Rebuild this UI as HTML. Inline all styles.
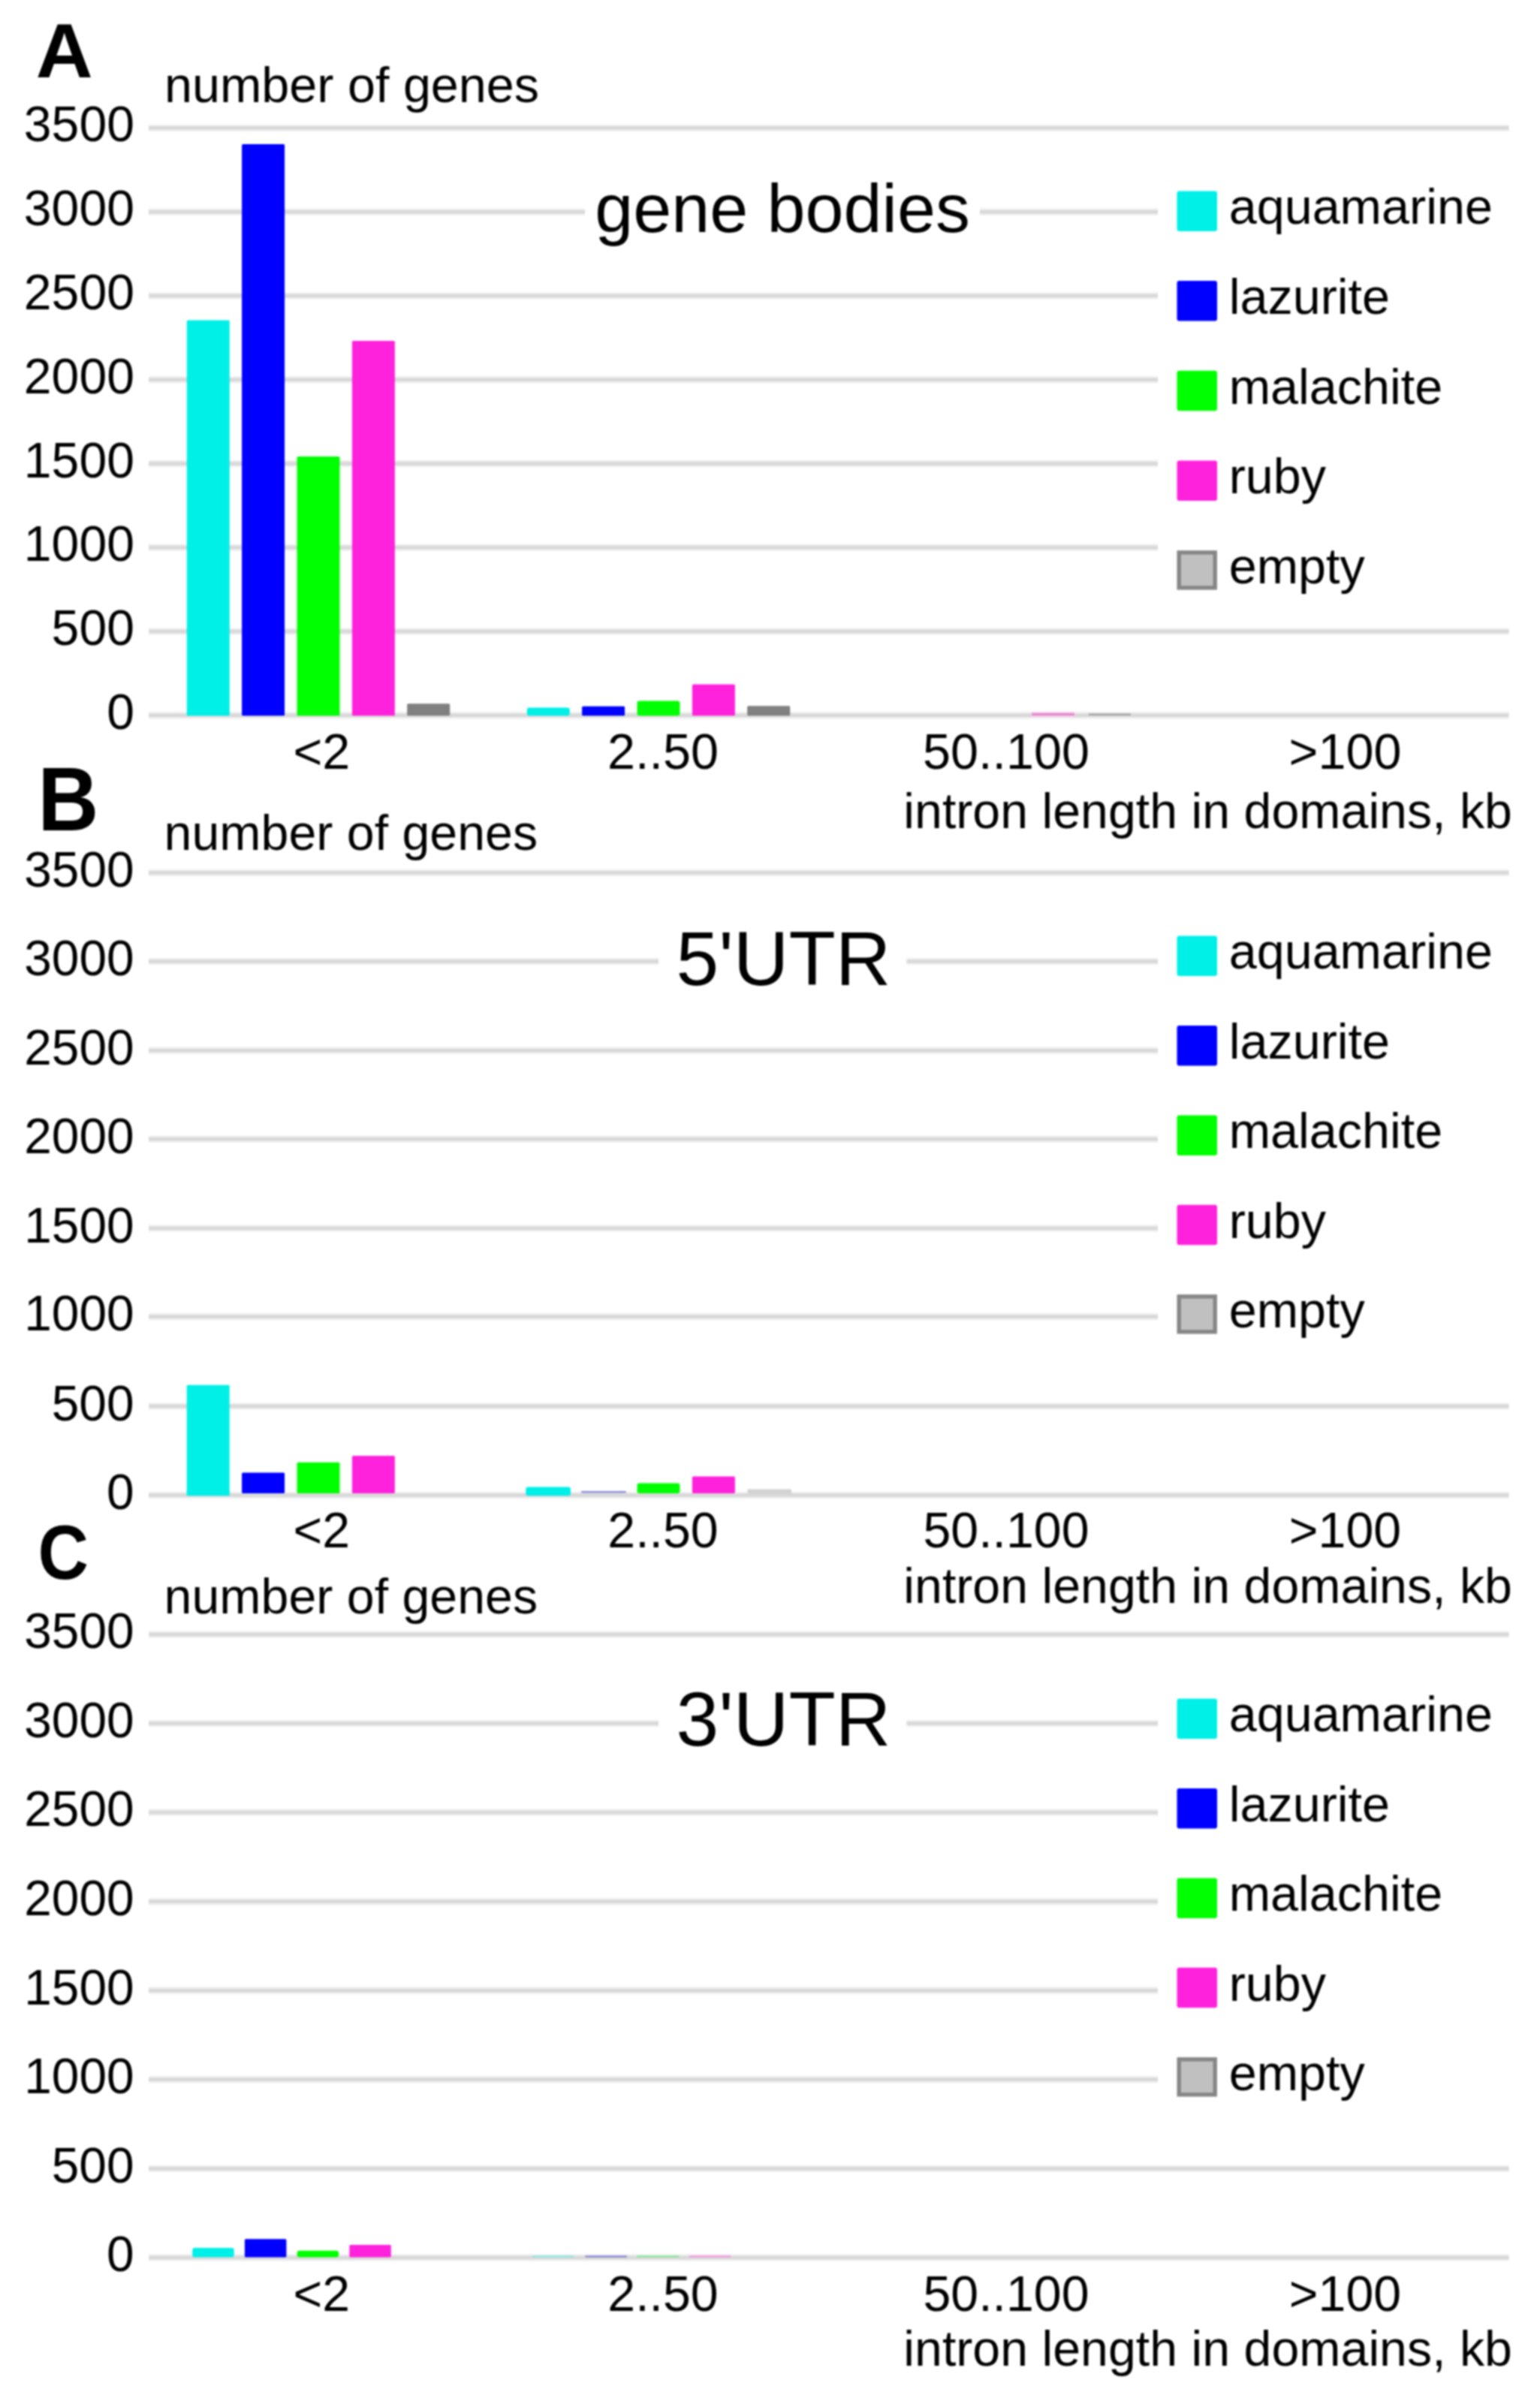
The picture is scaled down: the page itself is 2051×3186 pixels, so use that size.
<!DOCTYPE html>
<html lang="en"><head><meta charset="utf-8"><title>Intron length in chromatin domains</title>
<style>html,body{margin:0;padding:0;background:#fff}body{width:2051px;height:3186px;overflow:hidden}svg{display:block}text{font-family:"Liberation Sans",Arial,Helvetica,sans-serif;fill:#000}.t{font-size:66.5px}.b{font-weight:bold}</style></head><body>
<svg width="2051" height="3186" viewBox="0 0 2051 3186">
<defs><filter id="soft" x="0" y="0" width="100%" height="100%" filterUnits="userSpaceOnUse" color-interpolation-filters="sRGB"><feGaussianBlur stdDeviation="0.8"/></filter></defs>
<rect width="2051" height="3186" fill="#fff"/>
<g filter="url(#soft)">
<rect width="2051" height="3186" fill="#fff"/>
<g>
<line x1="198.0" x2="2009.5" y1="170.40" y2="170.40" stroke="#f1f1f1" stroke-width="9.5"/>
<line x1="198.0" x2="2009.5" y1="170.40" y2="170.40" stroke="#d9d9d9" stroke-width="5"/>
<line x1="198.0" x2="2009.5" y1="282.17" y2="282.17" stroke="#f1f1f1" stroke-width="9.5"/>
<line x1="198.0" x2="2009.5" y1="282.17" y2="282.17" stroke="#d9d9d9" stroke-width="5"/>
<line x1="198.0" x2="2009.5" y1="393.94" y2="393.94" stroke="#f1f1f1" stroke-width="9.5"/>
<line x1="198.0" x2="2009.5" y1="393.94" y2="393.94" stroke="#d9d9d9" stroke-width="5"/>
<line x1="198.0" x2="2009.5" y1="505.71" y2="505.71" stroke="#f1f1f1" stroke-width="9.5"/>
<line x1="198.0" x2="2009.5" y1="505.71" y2="505.71" stroke="#d9d9d9" stroke-width="5"/>
<line x1="198.0" x2="2009.5" y1="617.49" y2="617.49" stroke="#f1f1f1" stroke-width="9.5"/>
<line x1="198.0" x2="2009.5" y1="617.49" y2="617.49" stroke="#d9d9d9" stroke-width="5"/>
<line x1="198.0" x2="2009.5" y1="729.26" y2="729.26" stroke="#f1f1f1" stroke-width="9.5"/>
<line x1="198.0" x2="2009.5" y1="729.26" y2="729.26" stroke="#d9d9d9" stroke-width="5"/>
<line x1="198.0" x2="2009.5" y1="841.03" y2="841.03" stroke="#f1f1f1" stroke-width="9.5"/>
<line x1="198.0" x2="2009.5" y1="841.03" y2="841.03" stroke="#d9d9d9" stroke-width="5"/>
<line x1="198.0" x2="2009.5" y1="952.80" y2="952.80" stroke="#f1f1f1" stroke-width="9.5"/>
<line x1="198.0" x2="2009.5" y1="952.80" y2="952.80" stroke="#d9d9d9" stroke-width="5"/>
<rect x="779.0" y="232.2" width="526.0" height="100.0" fill="#fff"/>
<rect x="1542" y="232.2" width="509.0" height="598.9" fill="#fff"/>
<rect x="248.8" y="426.4" width="57.0" height="526.9" rx="1.5" fill="#00f0e8"/>
<rect x="322.1" y="191.9" width="57.0" height="761.4" rx="1.5" fill="#0000ff"/>
<rect x="395.5" y="608.1" width="57.0" height="345.2" rx="1.5" fill="#00ff00"/>
<rect x="468.9" y="453.9" width="57.0" height="499.4" rx="1.5" fill="#ff22dd"/>
<rect x="542.2" y="937.2" width="57.0" height="16.1" rx="1.5" fill="#808080"/>
<rect x="701.8" y="942.6" width="57.0" height="10.7" rx="3.2" fill="#00f0e8"/>
<rect x="775.1" y="940.8" width="57.0" height="12.5" rx="1.5" fill="#0000ff"/>
<rect x="848.5" y="933.6" width="57.0" height="19.7" rx="3.2" fill="#00ff00"/>
<rect x="921.9" y="911.5" width="57.0" height="41.8" rx="1.5" fill="#ff22dd"/>
<rect x="995.2" y="940.2" width="57.0" height="13.1" rx="1.5" fill="#808080"/>
<rect x="1374.0" y="948.2" width="57.0" height="6.6" rx="1" fill="#ffc4f2"/>
<rect x="1374.0" y="950.0" width="57.0" height="3.0" rx="1" fill="#dc8cc4"/>
<rect x="1449.7" y="950.2" width="56.5" height="2.8" rx="1" fill="#a8a8a8"/>
<text transform="translate(179.0 188.4) scale(0.995 1.0)" text-anchor="end" class="t">3500</text>
<text transform="translate(179.0 300.2) scale(0.995 1.0)" text-anchor="end" class="t">3000</text>
<text transform="translate(179.0 411.9) scale(0.995 1.0)" text-anchor="end" class="t">2500</text>
<text transform="translate(179.0 523.7) scale(0.995 1.0)" text-anchor="end" class="t">2000</text>
<text transform="translate(179.0 635.5) scale(0.995 1.0)" text-anchor="end" class="t">1500</text>
<text transform="translate(179.0 747.3) scale(0.995 1.0)" text-anchor="end" class="t">1000</text>
<text transform="translate(179.0 859.0) scale(0.995 1.0)" text-anchor="end" class="t">500</text>
<text transform="translate(179.0 970.8) scale(0.995 1.0)" text-anchor="end" class="t">0</text>
<text x="219.0" y="136.0" class="t">number of genes</text>
<text transform="translate(47.8 103.3) scale(1.03 1.0)" font-size="102" class="b">A</text>
<text x="1042.0" y="309.2" text-anchor="middle" font-size="91.7">gene bodies</text>
<rect x="1567.5" y="254.4" width="53.5" height="53.5" rx="3" fill="#00f0e8"/>
<text x="1636.7" y="298.1" class="t">aquamarine</text>
<rect x="1567.5" y="374.1" width="53.5" height="53.5" rx="3" fill="#0000ff"/>
<text x="1636.7" y="417.8" class="t">lazurite</text>
<rect x="1567.5" y="493.8" width="53.5" height="53.5" rx="3" fill="#00ff00"/>
<text x="1636.7" y="537.5" class="t">malachite</text>
<rect x="1567.5" y="613.5" width="53.5" height="53.5" rx="3" fill="#ff22dd"/>
<text x="1636.7" y="657.2" class="t">ruby</text>
<rect x="1570.2" y="735.9" width="48" height="47" fill="#c0c0c0" stroke="#868686" stroke-width="5.4"/>
<text x="1636.7" y="776.9" class="t">empty</text>
<text x="428.3" y="1023.6" text-anchor="middle" class="t">&lt;2</text>
<text x="883.0" y="1023.6" text-anchor="middle" class="t">2..50</text>
<text x="1340.0" y="1023.6" text-anchor="middle" class="t">50..100</text>
<text x="1791.5" y="1023.6" text-anchor="middle" class="t">&gt;100</text>
<text transform="translate(2014.0 1102.8) scale(0.997 1.0)" text-anchor="end" class="t">intron length in domains, kb</text>
</g>
<g>
<line x1="198.0" x2="2009.5" y1="1162.60" y2="1162.60" stroke="#f1f1f1" stroke-width="9.5"/>
<line x1="198.0" x2="2009.5" y1="1162.60" y2="1162.60" stroke="#d9d9d9" stroke-width="5"/>
<line x1="198.0" x2="2009.5" y1="1280.50" y2="1280.50" stroke="#f1f1f1" stroke-width="9.5"/>
<line x1="198.0" x2="2009.5" y1="1280.50" y2="1280.50" stroke="#d9d9d9" stroke-width="5"/>
<line x1="198.0" x2="2009.5" y1="1399.20" y2="1399.20" stroke="#f1f1f1" stroke-width="9.5"/>
<line x1="198.0" x2="2009.5" y1="1399.20" y2="1399.20" stroke="#d9d9d9" stroke-width="5"/>
<line x1="198.0" x2="2009.5" y1="1517.20" y2="1517.20" stroke="#f1f1f1" stroke-width="9.5"/>
<line x1="198.0" x2="2009.5" y1="1517.20" y2="1517.20" stroke="#d9d9d9" stroke-width="5"/>
<line x1="198.0" x2="2009.5" y1="1636.00" y2="1636.00" stroke="#f1f1f1" stroke-width="9.5"/>
<line x1="198.0" x2="2009.5" y1="1636.00" y2="1636.00" stroke="#d9d9d9" stroke-width="5"/>
<line x1="198.0" x2="2009.5" y1="1753.80" y2="1753.80" stroke="#f1f1f1" stroke-width="9.5"/>
<line x1="198.0" x2="2009.5" y1="1753.80" y2="1753.80" stroke="#d9d9d9" stroke-width="5"/>
<line x1="198.0" x2="2009.5" y1="1873.00" y2="1873.00" stroke="#f1f1f1" stroke-width="9.5"/>
<line x1="198.0" x2="2009.5" y1="1873.00" y2="1873.00" stroke="#d9d9d9" stroke-width="5"/>
<line x1="198.0" x2="2009.5" y1="1991.40" y2="1991.40" stroke="#f1f1f1" stroke-width="9.5"/>
<line x1="198.0" x2="2009.5" y1="1991.40" y2="1991.40" stroke="#d9d9d9" stroke-width="5"/>
<rect x="877.0" y="1230.5" width="330.5" height="100.0" fill="#fff"/>
<rect x="1542" y="1230.5" width="509.0" height="632.0" fill="#fff"/>
<rect x="248.7" y="1844.7" width="57.0" height="144.2" rx="1.5" fill="#00f0e8"/>
<rect x="322.1" y="1961.6" width="57.0" height="27.3" rx="1.5" fill="#0000ff"/>
<rect x="395.5" y="1947.8" width="57.0" height="41.1" rx="1.5" fill="#00ff00"/>
<rect x="468.9" y="1939.1" width="57.0" height="49.8" rx="1.5" fill="#ff22dd"/>
<rect x="848.5" y="1975.5" width="57.0" height="13.4" rx="3.2" fill="#00ff00"/>
<rect x="921.9" y="1966.4" width="57.0" height="22.5" rx="1.5" fill="#ff22dd"/>
<rect x="248.7" y="1985.0" width="57.0" height="7.2" rx="1" fill="#00f0e8"/>
<rect x="700.3" y="1980.6" width="59.7" height="11.7" rx="3.2" fill="#00f0e8"/>
<rect x="774.0" y="1985.9" width="59.8" height="2.6" rx="1" fill="#8c8cd8"/>
<rect x="995.6" y="1983.4" width="58.4" height="6.0" rx="1" fill="#d2d2d2"/>
<text transform="translate(178.6 1181.1) scale(0.99 1.0)" text-anchor="end" class="t">3500</text>
<text transform="translate(178.6 1299.0) scale(0.99 1.0)" text-anchor="end" class="t">3000</text>
<text transform="translate(178.6 1417.7) scale(0.99 1.0)" text-anchor="end" class="t">2500</text>
<text transform="translate(178.6 1535.7) scale(0.99 1.0)" text-anchor="end" class="t">2000</text>
<text transform="translate(178.6 1654.5) scale(0.99 1.0)" text-anchor="end" class="t">1500</text>
<text transform="translate(178.6 1772.3) scale(0.99 1.0)" text-anchor="end" class="t">1000</text>
<text transform="translate(178.6 1891.5) scale(0.99 1.0)" text-anchor="end" class="t">500</text>
<text transform="translate(178.6 2009.9) scale(0.99 1.0)" text-anchor="end" class="t">0</text>
<text transform="translate(218.6 1132.3) scale(0.997 1.0)" class="t">number of genes</text>
<text transform="translate(50.2 1106.2) scale(1.0 1.067)" font-size="112.5" class="b">B</text>
<text x="1043.5" y="1311.5" text-anchor="middle" font-size="102">5'UTR</text>
<rect x="1567.5" y="1246.6" width="53.5" height="53.5" rx="3" fill="#00f0e8"/>
<text x="1636.7" y="1290.3" class="t">aquamarine</text>
<rect x="1567.5" y="1366.0" width="53.5" height="53.5" rx="3" fill="#0000ff"/>
<text x="1636.7" y="1409.7" class="t">lazurite</text>
<rect x="1567.5" y="1485.4" width="53.5" height="53.5" rx="3" fill="#00ff00"/>
<text x="1636.7" y="1529.1" class="t">malachite</text>
<rect x="1567.5" y="1604.8" width="53.5" height="53.5" rx="3" fill="#ff22dd"/>
<text x="1636.7" y="1648.5" class="t">ruby</text>
<rect x="1570.2" y="1726.9" width="48" height="47" fill="#c0c0c0" stroke="#868686" stroke-width="5.4"/>
<text x="1636.7" y="1767.9" class="t">empty</text>
<text transform="translate(428.3 2061.4) scale(0.997 1.0)" text-anchor="middle" class="t">&lt;2</text>
<text transform="translate(883.0 2061.4) scale(0.997 1.0)" text-anchor="middle" class="t">2..50</text>
<text transform="translate(1340.0 2061.4) scale(0.997 1.0)" text-anchor="middle" class="t">50..100</text>
<text transform="translate(1791.5 2061.4) scale(0.997 1.0)" text-anchor="middle" class="t">&gt;100</text>
<text transform="translate(2014.0 2135.0) scale(0.997 1.0)" text-anchor="end" class="t">intron length in domains, kb</text>
</g>
<g>
<line x1="198.0" x2="2009.5" y1="2176.90" y2="2176.90" stroke="#f1f1f1" stroke-width="9.5"/>
<line x1="198.0" x2="2009.5" y1="2176.90" y2="2176.90" stroke="#d9d9d9" stroke-width="5"/>
<line x1="198.0" x2="2009.5" y1="2295.49" y2="2295.49" stroke="#f1f1f1" stroke-width="9.5"/>
<line x1="198.0" x2="2009.5" y1="2295.49" y2="2295.49" stroke="#d9d9d9" stroke-width="5"/>
<line x1="198.0" x2="2009.5" y1="2414.07" y2="2414.07" stroke="#f1f1f1" stroke-width="9.5"/>
<line x1="198.0" x2="2009.5" y1="2414.07" y2="2414.07" stroke="#d9d9d9" stroke-width="5"/>
<line x1="198.0" x2="2009.5" y1="2532.66" y2="2532.66" stroke="#f1f1f1" stroke-width="9.5"/>
<line x1="198.0" x2="2009.5" y1="2532.66" y2="2532.66" stroke="#d9d9d9" stroke-width="5"/>
<line x1="198.0" x2="2009.5" y1="2651.24" y2="2651.24" stroke="#f1f1f1" stroke-width="9.5"/>
<line x1="198.0" x2="2009.5" y1="2651.24" y2="2651.24" stroke="#d9d9d9" stroke-width="5"/>
<line x1="198.0" x2="2009.5" y1="2769.83" y2="2769.83" stroke="#f1f1f1" stroke-width="9.5"/>
<line x1="198.0" x2="2009.5" y1="2769.83" y2="2769.83" stroke="#d9d9d9" stroke-width="5"/>
<line x1="198.0" x2="2009.5" y1="2888.41" y2="2888.41" stroke="#f1f1f1" stroke-width="9.5"/>
<line x1="198.0" x2="2009.5" y1="2888.41" y2="2888.41" stroke="#d9d9d9" stroke-width="5"/>
<line x1="198.0" x2="2009.5" y1="3007.00" y2="3007.00" stroke="#f1f1f1" stroke-width="9.5"/>
<line x1="198.0" x2="2009.5" y1="3007.00" y2="3007.00" stroke="#d9d9d9" stroke-width="5"/>
<rect x="877.0" y="2245.5" width="330.5" height="100.0" fill="#fff"/>
<rect x="1542" y="2245.5" width="509.0" height="632.9" fill="#fff"/>
<rect x="256.2" y="2994.0" width="55.5" height="12.5" rx="3.2" fill="#00f0e8"/>
<rect x="325.9" y="2982.2" width="55.5" height="24.3" rx="1.5" fill="#0000ff"/>
<rect x="395.6" y="2997.8" width="55.5" height="8.7" rx="3.2" fill="#00ff00"/>
<rect x="465.3" y="2989.9" width="55.5" height="16.6" rx="1.5" fill="#ff22dd"/>
<rect x="708.7" y="3004.3" width="55.5" height="2.4" rx="1" fill="#8fe6e2"/>
<rect x="779.2" y="3004.3" width="56.0" height="2.4" rx="1" fill="#8c8cd8"/>
<rect x="848.0" y="3004.3" width="56.5" height="2.4" rx="1" fill="#8fe69a"/>
<rect x="917.7" y="3004.3" width="55.6" height="2.4" rx="1" fill="#f59ae0"/>
<text transform="translate(178.6 2195.2) scale(0.99 1.0)" text-anchor="end" class="t">3500</text>
<text transform="translate(178.6 2313.8) scale(0.99 1.0)" text-anchor="end" class="t">3000</text>
<text transform="translate(178.6 2432.4) scale(0.99 1.0)" text-anchor="end" class="t">2500</text>
<text transform="translate(178.6 2551.0) scale(0.99 1.0)" text-anchor="end" class="t">2000</text>
<text transform="translate(178.6 2669.5) scale(0.99 1.0)" text-anchor="end" class="t">1500</text>
<text transform="translate(178.6 2788.1) scale(0.99 1.0)" text-anchor="end" class="t">1000</text>
<text transform="translate(178.6 2906.7) scale(0.99 1.0)" text-anchor="end" class="t">500</text>
<text transform="translate(178.6 3025.3) scale(0.99 1.0)" text-anchor="end" class="t">0</text>
<text transform="translate(218.6 2149.0) scale(0.997 1.0)" class="t">number of genes</text>
<text transform="translate(50.6 2102.8) scale(1.0 1.096)" font-size="93.5" class="b">C</text>
<text x="1043.5" y="2324.5" text-anchor="middle" font-size="102">3'UTR</text>
<rect x="1567.5" y="2262.6" width="53.5" height="53.5" rx="3" fill="#00f0e8"/>
<text x="1636.7" y="2306.3" class="t">aquamarine</text>
<rect x="1567.5" y="2382.0" width="53.5" height="53.5" rx="3" fill="#0000ff"/>
<text x="1636.7" y="2425.7" class="t">lazurite</text>
<rect x="1567.5" y="2501.4" width="53.5" height="53.5" rx="3" fill="#00ff00"/>
<text x="1636.7" y="2545.1" class="t">malachite</text>
<rect x="1567.5" y="2620.8" width="53.5" height="53.5" rx="3" fill="#ff22dd"/>
<text x="1636.7" y="2664.5" class="t">ruby</text>
<rect x="1570.2" y="2742.9" width="48" height="47" fill="#c0c0c0" stroke="#868686" stroke-width="5.4"/>
<text x="1636.7" y="2783.9" class="t">empty</text>
<text transform="translate(428.3 3078.4) scale(0.997 1.0)" text-anchor="middle" class="t">&lt;2</text>
<text transform="translate(883.0 3078.4) scale(0.997 1.0)" text-anchor="middle" class="t">2..50</text>
<text transform="translate(1340.0 3078.4) scale(0.997 1.0)" text-anchor="middle" class="t">50..100</text>
<text transform="translate(1791.5 3078.4) scale(0.997 1.0)" text-anchor="middle" class="t">&gt;100</text>
<text transform="translate(2014.0 3151.0) scale(0.997 1.0)" text-anchor="end" class="t">intron length in domains, kb</text>
</g>
</g>
</svg></body></html>
